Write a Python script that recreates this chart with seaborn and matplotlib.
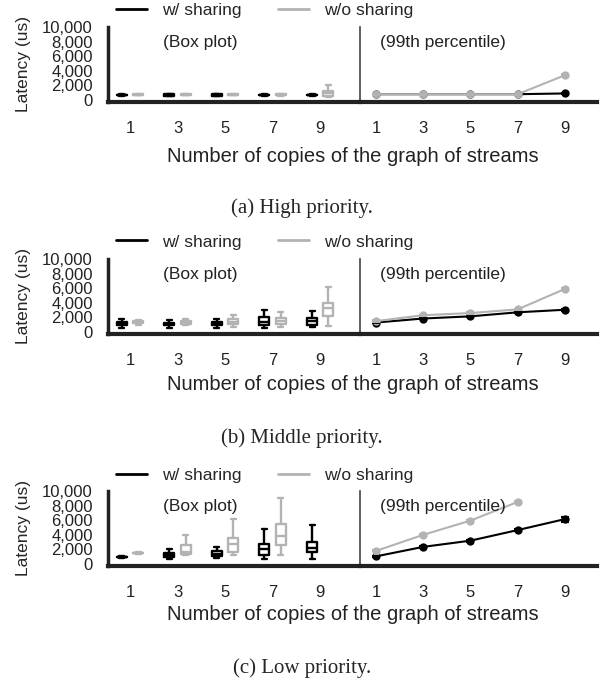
import pandas as pd
import seaborn as sns
import matplotlib.pyplot as plt
from matplotlib.lines import Line2D
from matplotlib.ticker import StrMethodFormatter

# ---- data ----
copies = [1, 3, 5, 7, 9]
settings = ["w/ sharing", "w/o sharing"]
captions = ["(a) High priority.", "(b) Middle priority.", "(c) Low priority."]

# box plot stats per copies value: (low whisker, q1, median, q3, high whisker)
high_box_shared = [(600, 650, 700, 750, 800), (550, 620, 700, 780, 850), (550, 620, 700, 770, 830),
                   (600, 650, 700, 750, 800), (600, 650, 700, 750, 800)]
high_box_unshared = [(650, 700, 750, 800, 850), (650, 700, 750, 800, 850), (650, 700, 750, 800, 850),
                     (600, 650, 700, 780, 850), (400, 500, 900, 1300, 2000)]
mid_box_shared = [(600, 900, 1100, 1400, 1800), (600, 900, 1100, 1300, 1700), (600, 900, 1100, 1350, 1800),
                  (600, 900, 1400, 2000, 3000), (700, 1000, 1500, 1900, 2900)]
mid_box_unshared = [(1000, 1200, 1350, 1450, 1650), (900, 1100, 1300, 1500, 1800), (700, 1100, 1400, 1800, 2400),
                    (700, 1100, 1500, 1900, 2800), (800, 2200, 3300, 4000, 6200)]
low_box_shared = [(850, 900, 950, 1000, 1050), (700, 900, 1200, 1500, 2000), (800, 1100, 1400, 1800, 2300),
                  (700, 1300, 2000, 2700, 4800), (700, 1600, 2200, 3000, 5300)]
low_box_unshared = [(1400, 1450, 1500, 1550, 1600), (1300, 1400, 1600, 2600, 4000), (1200, 1700, 2700, 3500, 6200),
                    (1300, 2600, 3900, 5500, 9000), None]

# 99th percentile latency and its error
high_p99_shared = [800, 800, 800, 800, 900]
high_p99_unshared = [800, 800, 800, 800, 3400]
mid_p99_shared = [1300, 1850, 2150, 2700, 3050]
mid_p99_unshared = [1500, 2300, 2600, 3100, 5900]
low_p99_shared = [1050, 2350, 3200, 4650, 6150]
low_p99_unshared = [1800, 4000, 5950, 8500, None]
high_err = [60, 60, 60, 60, 100]
mid_err = [80, 100, 100, 120, 150]
low_err_shared = [100, 120, 150, 150, 350]
low_err_unshared = [80, 80, 100, 100, 0]

panels = [
    (high_box_shared, high_box_unshared, high_p99_shared, high_p99_unshared, high_err, high_err),
    (mid_box_shared, mid_box_unshared, mid_p99_shared, mid_p99_unshared, mid_err, mid_err),
    (low_box_shared, low_box_unshared, low_p99_shared, low_p99_unshared, low_err_shared, low_err_unshared),
]

colors = {"w/ sharing": "#000000", "w/o sharing": "#b3b3b3"}

sns.set_theme(style="white")
plt.rcParams["font.family"] = ["Liberation Sans", "DejaVu Sans"]

W, H = 606, 681
fig = plt.figure(figsize=(W / 100, H / 100), dpi=100)
# vertical pixel positions for each panel
axes_bottom_px = [102, 334, 566]
legend_px = [10, 242, 475]
xlabel_px = [156, 384, 615]
caption_px = [208, 438, 668]


def box_frame(shared, unshared):
    # each box is given by its 5 stats; with whis=(0,100) they come back exactly
    rows = []
    for setting, stats in zip(settings, [shared, unshared]):
        for c, s in zip(copies, stats):
            if s is None:
                continue
            for v in s:
                rows.append({"copies": c, "setting": setting, "latency": v})
    return pd.DataFrame(rows)


def style_axis(ax, left_lw, left_color):
    ax.spines["top"].set_visible(False)
    ax.spines["right"].set_visible(False)
    ax.spines["left"].set_linewidth(left_lw)
    ax.spines["left"].set_color(left_color)
    ax.spines["bottom"].set_linewidth(3)
    ax.spines["bottom"].set_color("#222222")
    ax.set_ylim(-270, 10000)
    ax.tick_params(axis="both", length=0, labelsize=12, colors="#222222")
    ax.tick_params(axis="x", pad=14)
    ax.set_xlabel("")
    ax.set_facecolor("none")


for i, (bs, bu, ps, pu, es, eu) in enumerate(panels):
    bottom = 1 - axes_bottom_px[i] / H
    ax_box = fig.add_axes([108 / W, bottom, 252 / W, 75 / H])
    ax_line = fig.add_axes([360 / W, bottom, 237 / W, 75 / H])

    # box plots
    df_box = box_frame(bs, bu)
    sns.boxplot(data=df_box, x="copies", y="latency", hue="setting", order=copies,
                hue_order=settings, palette=colors, fill=False, whis=(0, 100),
                width=0.68, gap=0.38, linewidth=1.7, legend=False, ax=ax_box)
    ax_box.set_xlim(-0.463, 4.84)
    style_axis(ax_box, 2.5, "#222222")
    ax_box.set_yticks([0, 2000, 4000, 6000, 8000, 10000])
    ax_box.yaxis.set_major_formatter(StrMethodFormatter("{x:,.0f}"))
    ax_box.tick_params(axis="y", pad=11)
    ax_box.set_ylabel("Latency (us)", fontsize=12.5, labelpad=8)
    ax_box.text(0.218, 0.79, "(Box plot)", transform=ax_box.transAxes, fontsize=12.5,
                va="center", color="#222222")

    # 99th percentile lines
    df_line = pd.DataFrame({
        "copies": copies * 2,
        "setting": [settings[0]] * 5 + [settings[1]] * 5,
        "p99": list(ps) + list(pu),
    }).dropna()
    sns.lineplot(data=df_line, x="copies", y="p99", hue="setting", hue_order=settings,
                 palette=colors, marker="o", markersize=6, markeredgewidth=0,
                 linewidth=1.5, legend=False, ax=ax_line)
    for setting, vals, err in zip(settings, [ps, pu], [es, eu]):
        xs = [c for c, v in zip(copies, vals) if v is not None]
        ys = [v for v in vals if v is not None]
        ee = [e for e, v in zip(err, vals) if v is not None]
        ax_line.errorbar(xs, ys, yerr=ee, fmt="none", ecolor=colors[setting],
                         elinewidth=1.5, capsize=3, capthick=1.5)
    ax_line.set_xlim(0.32, 10.36)
    ax_line.set_xticks(copies)
    style_axis(ax_line, 1.2, "#444444")
    ax_line.set_yticks([])
    ax_line.set_ylabel("")
    ax_line.text(0.084, 0.79, "(99th percentile)", transform=ax_line.transAxes,
                 fontsize=12.5, va="center", color="#222222")

    # legend, x label, caption
    handles = [Line2D([], [], color=colors[s], lw=2) for s in settings]
    fig.legend(handles, settings, loc="center", bbox_to_anchor=(265 / W, 1 - legend_px[i] / H),
               ncol=2, frameon=False, fontsize=12.5, handlelength=1.75,
               handletextpad=0.9, columnspacing=2.1)
    fig.text(352.5 / W, 1 - xlabel_px[i] / H, "Number of copies of the graph of streams",
             ha="center", va="center", fontsize=14.5, color="#222222")
    fig.text(302 / W, 1 - caption_px[i] / H, captions[i], ha="center", va="center",
             fontsize=15, family=["Liberation Serif", "DejaVu Serif"])

fig.savefig("out.png", dpi=100)
